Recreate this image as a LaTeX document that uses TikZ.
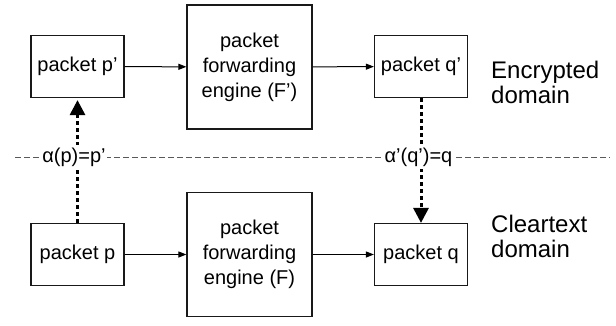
\documentclass[tikz,border=0pt]{standalone}
\usepackage{fontspec}
\setmainfont{Liberation Sans}
\usetikzlibrary{arrows.meta}
\begin{document}
\begin{tikzpicture}[x=1pt,y=-1pt,
  box/.style={draw=black!90, line width=1.2pt, align=center, inner sep=0pt,
    font=\fontsize{20}{25}\selectfont},
  pktbox/.style={box, minimum width=93pt, minimum height=62pt},
  enginebox/.style={box, minimum width=125pt, minimum height=124pt},
  flow/.style={-{Triangle[length=8pt,width=6pt]}, line width=1pt},
  mapping/.style={-{Triangle[length=15pt,width=15pt]}, line width=3pt,
    dash pattern=on 4pt off 3pt},
  divider/.style={draw=black!65, line width=1pt, dash pattern=on 6pt off 3pt},
  maplabel/.style={fill=white, inner xsep=1pt, inner ysep=3pt,
    font=\fontsize{20}{24}\selectfont},
  domainlabel/.style={align=left, inner sep=0pt, anchor=west,
    font=\fontsize{24}{25}\selectfont}
]
\useasboundingbox (0,0) rectangle (616,325);

% boundary between the two domains
\coordinate (dl) at (15,157);
\coordinate (dr) at (610,157);
\draw[divider] (dl) -- (dr);

% encrypted domain
\node[pktbox] (pp) at (77.5,66.5) {packet p’};
\node[enginebox] (Fp) at (249.5,67) {packet\\forwarding\\engine (F’)};
\node[pktbox] (qp) at (421,66.5) {packet q’};

% cleartext domain
\node[pktbox] (p) at (77.5,254.5) {packet p};
\node[enginebox] (F) at (249.5,254.5) {packet\\forwarding\\engine (F)};
\node[pktbox] (q) at (421,254.5) {packet q};

% forwarding flows
\draw[flow] (pp) -- (Fp);
\draw[flow] (Fp) -- (qp);
\draw[flow] (p) -- (F);
\draw[flow] (F) -- (q);

% mappings between domains
\draw[mapping, shorten >=2pt] (p.north) -- (pp.south);
\draw[mapping] (qp.south) -- (q.north);
\node[maplabel] (alpha) at (74,157) {α(p)=p’};
\node[maplabel] (alphainv) at (418.5,157) {α'(q’)=q};

% domain names
\node[domainlabel] (enc) at (491,82) {Encrypted\\domain};
\node[domainlabel] (clr) at (491,236) {Cleartext\\domain};
\end{tikzpicture}
\end{document}
